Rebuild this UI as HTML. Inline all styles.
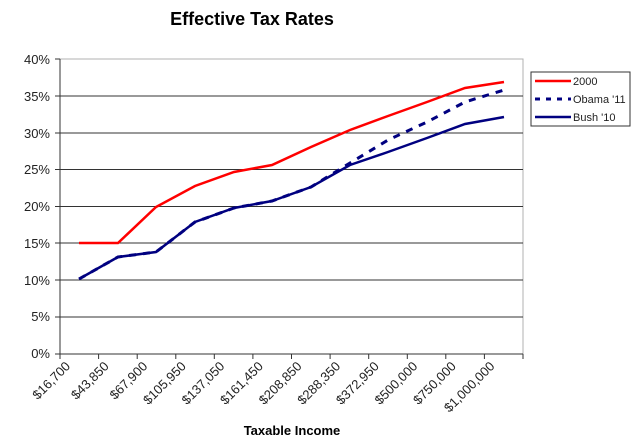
<!DOCTYPE html>
<html><head><style>
body{margin:0;background:#fff;}
svg text{font-family:"Liberation Sans",Arial,sans-serif;}
</style></head><body>
<svg width="640" height="443" xmlns="http://www.w3.org/2000/svg">
<rect width="640" height="443" fill="#fff"/>
<text x="252" y="25" font-size="18" font-weight="bold" text-anchor="middle">Effective Tax Rates</text>
<rect x="60" y="59" width="463" height="295" fill="#fff" stroke="#b0b0b0" stroke-width="1"/>
<g stroke="#333" stroke-width="1">
<line x1="60" y1="96" x2="523" y2="96"/>
<line x1="60" y1="133" x2="523" y2="133"/>
<line x1="60" y1="169.5" x2="523" y2="169.5"/>
<line x1="60" y1="206.5" x2="523" y2="206.5"/>
<line x1="60" y1="243" x2="523" y2="243"/>
<line x1="60" y1="280" x2="523" y2="280"/>
<line x1="60" y1="317" x2="523" y2="317"/>
<line x1="60" y1="59" x2="60" y2="354"/>
<line x1="60" y1="354" x2="523" y2="354"/>
</g>
<g stroke="#333" stroke-width="1">
<line x1="55" y1="59" x2="60" y2="59"/><line x1="55" y1="96" x2="60" y2="96"/><line x1="55" y1="133" x2="60" y2="133"/><line x1="55" y1="169.5" x2="60" y2="169.5"/><line x1="55" y1="206.5" x2="60" y2="206.5"/><line x1="55" y1="243" x2="60" y2="243"/><line x1="55" y1="280" x2="60" y2="280"/><line x1="55" y1="317" x2="60" y2="317"/><line x1="55" y1="354" x2="60" y2="354"/>
<line x1="60" y1="354" x2="60" y2="359"/><line x1="98.6" y1="354" x2="98.6" y2="359"/><line x1="137.2" y1="354" x2="137.2" y2="359"/><line x1="175.8" y1="354" x2="175.8" y2="359"/><line x1="214.3" y1="354" x2="214.3" y2="359"/><line x1="252.9" y1="354" x2="252.9" y2="359"/><line x1="291.5" y1="354" x2="291.5" y2="359"/><line x1="330.1" y1="354" x2="330.1" y2="359"/><line x1="368.7" y1="354" x2="368.7" y2="359"/><line x1="407.3" y1="354" x2="407.3" y2="359"/><line x1="445.8" y1="354" x2="445.8" y2="359"/><line x1="484.4" y1="354" x2="484.4" y2="359"/><line x1="523" y1="354" x2="523" y2="359"/>
</g>
<g font-size="13" text-anchor="end" fill="#222">
<text x="50" y="64">40%</text><text x="50" y="101">35%</text><text x="50" y="138">30%</text><text x="50" y="174">25%</text><text x="50" y="211">20%</text><text x="50" y="248">15%</text><text x="50" y="285">10%</text><text x="50" y="321">5%</text><text x="50" y="358">0%</text>
</g>
<g font-size="13" text-anchor="end" fill="#222">
<text transform="translate(71,367) rotate(-45)">$16,700</text>
<text transform="translate(109.6,367) rotate(-45)">$43,850</text>
<text transform="translate(148.2,367) rotate(-45)">$67,900</text>
<text transform="translate(186.8,367) rotate(-45)">$105,950</text>
<text transform="translate(225.3,367) rotate(-45)">$137,050</text>
<text transform="translate(263.9,367) rotate(-45)">$161,450</text>
<text transform="translate(302.5,367) rotate(-45)">$208,850</text>
<text transform="translate(341.1,367) rotate(-45)">$288,350</text>
<text transform="translate(379.7,367) rotate(-45)">$372,950</text>
<text transform="translate(418.3,367) rotate(-45)">$500,000</text>
<text transform="translate(456.8,367) rotate(-45)">$750,000</text>
<text transform="translate(495.4,367) rotate(-45)">$1,000,000</text>
</g>
<text x="292" y="435" font-size="13" font-weight="bold" text-anchor="middle">Taxable Income</text>
<polyline fill="none" stroke="#ff0000" stroke-width="2.5" points="79,243 118,243 156,207 195,186 234,172 272,165 311,147 350,130 388,116 427,102 465,88 504,82"/>
<polyline fill="none" stroke="#000080" stroke-width="3" stroke-dasharray="7,7" points="79,279 118,257 156,252 195,222 234,208 272,201 311,187 350,163 388,140 427,122 465,102 504,90"/>
<polyline fill="none" stroke="#000080" stroke-width="2.5" points="79,279 118,257 156,252 195,222 234,208 272,201 311,187 350,165 388,152 427,138 465,124 504,117"/>
<rect x="531" y="72" width="99" height="54" fill="#fff" stroke="#333" stroke-width="1"/>
<line x1="535" y1="81" x2="571" y2="81" stroke="#ff0000" stroke-width="2.5"/>
<line x1="535" y1="99" x2="571" y2="99" stroke="#000080" stroke-width="3" stroke-dasharray="5,6"/>
<line x1="535" y1="117" x2="571" y2="117" stroke="#000080" stroke-width="2.5"/>
<g font-size="11" fill="#222">
<text x="573" y="85">2000</text><text x="573" y="103">Obama '11</text><text x="573" y="121">Bush '10</text>
</g>
</svg>
</body></html>
